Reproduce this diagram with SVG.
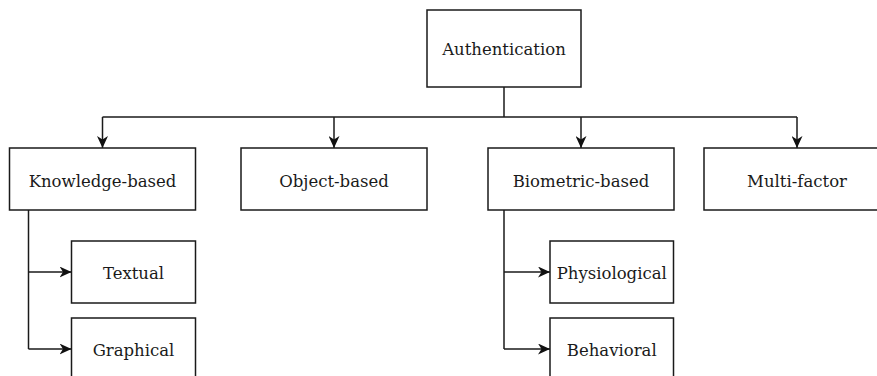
<svg xmlns="http://www.w3.org/2000/svg" width="877" height="376" viewBox="0 0 877 376">
  <style>
    .box { fill: #ffffff; stroke: #1a1a1a; stroke-width: 1.5; }
    .lbl { font-family: "DejaVu Serif", "Liberation Serif", serif; font-size: 16.5px; fill: #1a1a1a; text-anchor: middle; }
    .edge { fill: none; stroke: #1a1a1a; stroke-width: 1.5; }
  </style>
  <defs>
    <marker id="arrow" viewBox="0 0 12 11" refX="12" refY="5.5" markerWidth="12" markerHeight="11" markerUnits="userSpaceOnUse" orient="auto">
      <path d="M0,0 L12,5.5 L0,11 L3.5,5.5 Z" fill="#111111"/>
    </marker>
  </defs>

  <rect width="877" height="376" fill="#ffffff"/>

  <!-- connectors -->
  <g id="connectors">
    <path class="edge" d="M504,87 V117"/>
    <path class="edge" d="M102.5,117 H797"/>
    <path class="edge" d="M102.5,117 V148" marker-end="url(#arrow)"/>
    <path class="edge" d="M334,117 V148" marker-end="url(#arrow)"/>
    <path class="edge" d="M581,117 V148" marker-end="url(#arrow)"/>
    <path class="edge" d="M797,117 V148" marker-end="url(#arrow)"/>
    <path class="edge" d="M28.5,210 V349"/>
    <path class="edge" d="M28.5,272 H71.5" marker-end="url(#arrow)"/>
    <path class="edge" d="M28.5,349 H71.5" marker-end="url(#arrow)"/>
    <path class="edge" d="M504,210 V349"/>
    <path class="edge" d="M504,272 H550" marker-end="url(#arrow)"/>
    <path class="edge" d="M504,349 H550" marker-end="url(#arrow)"/>
  </g>

  <!-- nodes -->
  <g id="authentication">
    <rect class="box" x="427" y="10" width="154" height="77"/>
    <text class="lbl" x="504" y="55">Authentication</text>
  </g>
  <g id="knowledge-based">
    <rect class="box" x="9.5" y="148" width="186" height="62"/>
    <text class="lbl" x="102.5" y="186.5">Knowledge-based</text>
  </g>
  <g id="object-based">
    <rect class="box" x="241" y="148" width="186" height="62"/>
    <text class="lbl" x="334" y="186.5">Object-based</text>
  </g>
  <g id="biometric-based">
    <rect class="box" x="488" y="148" width="186" height="62"/>
    <text class="lbl" x="581" y="186.5">Biometric-based</text>
  </g>
  <g id="multi-factor">
    <rect class="box" x="704" y="148" width="186" height="62"/>
    <text class="lbl" x="797" y="186.5">Multi-factor</text>
  </g>
  <g id="textual">
    <rect class="box" x="71.5" y="241" width="124" height="62"/>
    <text class="lbl" x="133.5" y="279">Textual</text>
  </g>
  <g id="graphical">
    <rect class="box" x="71.5" y="318" width="124" height="62"/>
    <text class="lbl" x="133.5" y="356">Graphical</text>
  </g>
  <g id="physiological">
    <rect class="box" x="550" y="241" width="123.5" height="62"/>
    <text class="lbl" x="611.75" y="279">Physiological</text>
  </g>
  <g id="behavioral">
    <rect class="box" x="550" y="318" width="123.5" height="62"/>
    <text class="lbl" x="611.75" y="356">Behavioral</text>
  </g>
</svg>
